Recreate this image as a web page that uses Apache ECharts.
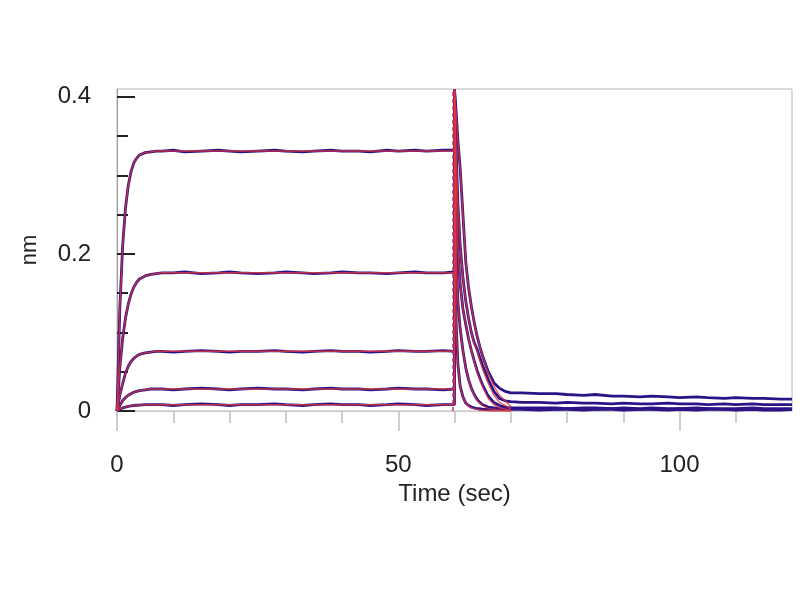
<!DOCTYPE html>
<html>
<head>
<meta charset="utf-8">
<script src="https://cdn.jsdelivr.net/npm/echarts@6/dist/echarts.min.js"></script>
<style>
html, body { margin: 0; padding: 0; background: #fff; }
#main { width: 800px; height: 600px; }
</style>
</head>
<body>
<div id="main"></div>
<script>
// time points (sec)
var tAssoc = [0, 0.5, 1, 1.5, 2, 2.5, 3, 3.5, 4, 5, 6, 7, 8, 10, 12, 15, 18, 20, 22, 25, 28, 30, 33, 35, 38, 40, 43, 45, 48, 50, 53, 55, 58, 60];
var tDiss = [60, 60.3, 60.6, 61, 61.5, 62, 62.5, 63, 63.5, 64, 64.5, 65, 66, 67, 68, 69, 70, 72, 75, 78, 80, 83, 85, 88, 90, 93, 95, 98, 100, 103, 105, 108, 110, 113, 115, 118, 120];
var tFitA = [0, 0.5, 1, 1.5, 2, 2.5, 3, 3.5, 4, 5, 6, 7, 8, 10, 60];
var tFitD = [60, 60.3, 60.6, 61, 61.5, 62, 62.5, 63, 63.5, 64, 64.5, 65, 66, 67, 68, 70];

// measured response (nm), association phase
var assoc1 = [0, 0.13, 0.21, 0.258, 0.287, 0.305, 0.316, 0.322, 0.326, 0.329, 0.330, 0.331, 0.331, 0.332, 0.330, 0.331, 0.332, 0.331, 0.330, 0.331, 0.332, 0.331, 0.330, 0.331, 0.332, 0.331, 0.331, 0.330, 0.332, 0.331, 0.332, 0.331, 0.332, 0.332];
var assoc2 = [0, 0.055, 0.092, 0.118, 0.136, 0.149, 0.158, 0.164, 0.168, 0.172, 0.174, 0.175, 0.176, 0.176, 0.177, 0.175, 0.176, 0.177, 0.176, 0.175, 0.176, 0.177, 0.176, 0.175, 0.176, 0.177, 0.176, 0.176, 0.175, 0.176, 0.177, 0.176, 0.176, 0.177];
var assoc3 = [0, 0.02, 0.035, 0.048, 0.057, 0.063, 0.067, 0.07, 0.072, 0.074, 0.075, 0.076, 0.076, 0.075, 0.076, 0.077, 0.076, 0.075, 0.076, 0.076, 0.077, 0.076, 0.075, 0.076, 0.077, 0.076, 0.076, 0.075, 0.076, 0.077, 0.076, 0.076, 0.077, 0.076];
var assoc4 = [0, 0.007, 0.013, 0.017, 0.02, 0.022, 0.024, 0.025, 0.026, 0.027, 0.028, 0.028, 0.028, 0.027, 0.028, 0.029, 0.028, 0.027, 0.028, 0.029, 0.028, 0.028, 0.027, 0.028, 0.029, 0.028, 0.028, 0.027, 0.028, 0.029, 0.028, 0.028, 0.027, 0.028];
var assoc5 = [0, 0.002, 0.004, 0.005, 0.006, 0.0065, 0.007, 0.0073, 0.0075, 0.008, 0.008, 0.008, 0.008, 0.007, 0.008, 0.009, 0.008, 0.007, 0.008, 0.008, 0.009, 0.008, 0.007, 0.008, 0.009, 0.008, 0.008, 0.007, 0.008, 0.009, 0.008, 0.007, 0.008, 0.008];

// measured response (nm), dissociation phase
var diss1 = [0.41, 0.38, 0.345, 0.31, 0.25, 0.19, 0.157, 0.133, 0.113, 0.096, 0.082, 0.07, 0.05, 0.036, 0.029, 0.025, 0.023, 0.023, 0.022, 0.022, 0.021, 0.020, 0.021, 0.019, 0.019, 0.018, 0.019, 0.018, 0.017, 0.018, 0.017, 0.016, 0.017, 0.016, 0.016, 0.015, 0.015];
var diss2 = [0.41, 0.33, 0.265, 0.212, 0.17, 0.14, 0.118, 0.1, 0.087, 0.079, 0.068, 0.058, 0.04, 0.025, 0.016, 0.013, 0.012, 0.011, 0.011, 0.010, 0.011, 0.010, 0.010, 0.009, 0.010, 0.009, 0.009, 0.010, 0.009, 0.009, 0.008, 0.009, 0.008, 0.009, 0.008, 0.008, 0.008];
var diss3 = [0.41, 0.29, 0.205, 0.162, 0.13, 0.11, 0.092, 0.077, 0.064, 0.052, 0.042, 0.033, 0.019, 0.011, 0.007, 0.005, 0.004, 0.004, 0.004, 0.004, 0.003, 0.004, 0.004, 0.003, 0.004, 0.003, 0.004, 0.003, 0.003, 0.004, 0.003, 0.003, 0.003, 0.004, 0.003, 0.003, 0.003];
var diss4 = [0.41, 0.2, 0.14, 0.105, 0.077, 0.055, 0.04, 0.029, 0.021, 0.015, 0.011, 0.008, 0.005, 0.004, 0.003, 0.003, 0.003, 0.003, 0.003, 0.002, 0.003, 0.003, 0.002, 0.003, 0.003, 0.002, 0.003, 0.002, 0.003, 0.002, 0.003, 0.002, 0.002, 0.003, 0.002, 0.002, 0.002];
var diss5 = [0.41, 0.11, 0.06, 0.032, 0.018, 0.01, 0.007, 0.005, 0.004, 0.003, 0.003, 0.002, 0.002, 0.002, 0.002, 0.002, 0.002, 0.002, 0.001, 0.002, 0.002, 0.001, 0.002, 0.002, 0.001, 0.002, 0.002, 0.001, 0.002, 0.001, 0.002, 0.002, 0.001, 0.002, 0.001, 0.001, 0.002];

// fitted curves
var fitA1 = [0, 0.13, 0.21, 0.258, 0.287, 0.305, 0.316, 0.322, 0.326, 0.329, 0.330, 0.331, 0.331, 0.331, 0.331];
var fitA2 = [0, 0.055, 0.092, 0.118, 0.136, 0.149, 0.158, 0.164, 0.168, 0.172, 0.174, 0.175, 0.176, 0.176, 0.176];
var fitA3 = [0, 0.02, 0.035, 0.048, 0.057, 0.063, 0.067, 0.07, 0.072, 0.074, 0.075, 0.076, 0.076, 0.076, 0.076];
var fitA4 = [0, 0.007, 0.013, 0.017, 0.02, 0.022, 0.024, 0.025, 0.026, 0.027, 0.028, 0.028, 0.028, 0.028, 0.028];
var fitA5 = [0, 0.002, 0.004, 0.005, 0.006, 0.0065, 0.007, 0.0073, 0.0075, 0.008, 0.008, 0.008, 0.008, 0.008, 0.008];
var fitD1 = [0.41, 0.38, 0.345, 0.31, 0.25, 0.19, 0.157, 0.133, 0.113, 0.096, 0.082, 0.07, 0.048, 0.032, 0.02, 0.006];
var fitD2 = [0.41, 0.33, 0.265, 0.212, 0.17, 0.14, 0.118, 0.1, 0.086, 0.076, 0.064, 0.053, 0.035, 0.02, 0.011, 0.003];
var fitD3 = [0.41, 0.29, 0.205, 0.162, 0.13, 0.11, 0.092, 0.077, 0.063, 0.05, 0.04, 0.031, 0.016, 0.008, 0.004, 0.001];
var fitD4 = [0.41, 0.2, 0.14, 0.105, 0.077, 0.055, 0.04, 0.028, 0.02, 0.014, 0.01, 0.007, 0.003, 0.002, 0.001, 0];
var fitD5 = [0.41, 0.11, 0.06, 0.032, 0.018, 0.01, 0.006, 0.004, 0.003, 0.002, 0.001, 0.001, 0, 0, 0, 0];

var switchLine = [[59.7, 0], [59.7, 0.41]];
var xMajor = [0, 50, 100];
var xMinor = [10, 20, 30, 40, 60, 70, 80, 90, 110];
var yMajor = [0, 0.2, 0.4];
var yMinor = [0.05, 0.1, 0.15, 0.25, 0.3, 0.35];

var assocAll = [assoc1, assoc2, assoc3, assoc4, assoc5];
var dissAll = [diss1, diss2, diss3, diss4, diss5];
var fitAAll = [fitA1, fitA2, fitA3, fitA4, fitA5];
var fitDAll = [fitD1, fitD2, fitD3, fitD4, fitD5];

function pairs(ts, vs) {
    var out = [];
    for (var i = 0; i < ts.length; i++) out.push([ts[i], vs[i]]);
    return out;
}

var font = '"Liberation Sans", Arial, sans-serif';
var series = [];

// raw data first (blue/purple), fits on top (red)
for (var k = 0; k < 5; k++) {
    series.push({
        type: 'line',
        data: pairs(tAssoc, assocAll[k]).concat(pairs(tDiss, dissAll[k])),
        showSymbol: false,
        lineStyle: {color: '#2c1488', width: 2.8},
        z: 2,
        animation: false
    });
}
for (var k = 0; k < 5; k++) {
    var s = {
        type: 'line',
        data: pairs(tFitA, fitAAll[k]).concat(pairs(tFitD, fitDAll[k])),
        showSymbol: false,
        lineStyle: {color: '#e2343c', width: 1.4, opacity: 0.8},
        z: 3,
        animation: false
    };
    if (k === 0) {
        s.markLine = {
            silent: true,
            symbol: 'none',
            label: {show: false},
            lineStyle: {color: '#b8306a', type: [4, 3], width: 1.6, opacity: 0.9},
            data: [[{coord: switchLine[0]}, {coord: switchLine[1]}]]
        };
    }
    series.push(s);
}

var dom = document.getElementById('main');
var myChart = echarts.init(dom);

var option = {
    backgroundColor: '#fff',
    animation: false,
    grid: {
        left: 117, right: 8, top: 89, bottom: 189,
        show: true, borderColor: '#b8b8b8', borderWidth: 1
    },
    xAxis: [{
        type: 'value', min: 0, max: 120,
        name: 'Time (sec)', nameLocation: 'middle', nameGap: 68,
        nameTextStyle: {fontFamily: font, fontSize: 24, color: '#222'},
        axisLine: {show: true, lineStyle: {color: '#c8c8c8'}},
        axisTick: {show: true, length: 20, customValues: xMajor, lineStyle: {color: '#c0c0c0', width: 1.5}},
        axisLabel: {customValues: xMajor, margin: 42, fontFamily: font, fontSize: 24, color: '#222'},
        splitLine: {show: false}
    }, {
        type: 'value', min: 0, max: 120, position: 'bottom',
        axisLine: {show: false},
        axisTick: {show: true, length: 12, customValues: xMinor, lineStyle: {color: '#c0c0c0', width: 1.5}},
        axisLabel: {show: false},
        splitLine: {show: false}
    }],
    yAxis: [{
        type: 'value', min: 0, max: 0.41,
        name: 'nm', nameLocation: 'middle', nameGap: 76,
        nameTextStyle: {fontFamily: font, fontSize: 22, color: '#222'},
        axisLine: {show: true, lineStyle: {color: '#9a9a9a'}},
        axisTick: {show: true, inside: true, length: 18, customValues: yMajor, lineStyle: {color: '#222', width: 2}},
        axisLabel: {customValues: yMajor, margin: 26, fontFamily: font, fontSize: 24, color: '#222',
            formatter: function (v) { return v === 0 ? '0' : String(Math.round(v * 10) / 10); }},
        splitLine: {show: false}
    }, {
        type: 'value', min: 0, max: 0.41, position: 'left',
        axisLine: {show: false},
        axisTick: {show: true, inside: true, length: 11, customValues: yMinor, lineStyle: {color: '#222', width: 2}},
        axisLabel: {show: false},
        splitLine: {show: false}
    }],
    series: series
};

if (option && typeof option === 'object') {
    myChart.setOption(option, true);
}
</script>
</body>
</html>
